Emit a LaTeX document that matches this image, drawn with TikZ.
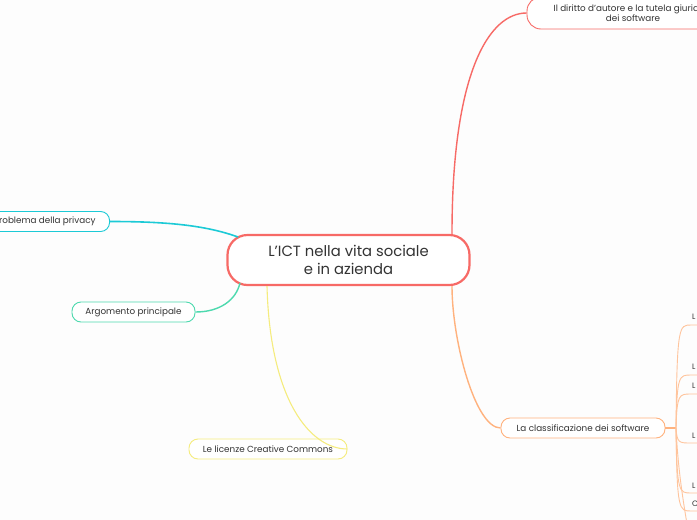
\documentclass[tikz,border=0pt]{standalone}
\usepackage{fontspec}
\setmainfont{Poppins}
\usetikzlibrary{calc}
\definecolor{redc}{HTML}{F76A66}
\definecolor{orc}{HTML}{FFB27E}
\definecolor{orl}{HTML}{FFC49C}
\definecolor{cyc}{HTML}{1CCAD6}
\definecolor{grc}{HTML}{4DD9AE}
\definecolor{yec}{HTML}{F5EC7E}
\definecolor{txt}{HTML}{333333}
\definecolor{bg}{HTML}{FDFDFD}
\begin{document}
\begin{tikzpicture}[x=1pt,y=-1pt,
  central/.style={draw=redc, line width=2.2pt, rounded corners=20pt, fill=white,
    minimum width=242pt, minimum height=50pt, inner sep=0pt, align=center,
    text=txt, font=\fontsize{14.8}{18}\selectfont},
  topic/.style={draw, rounded corners=9pt, fill=white, minimum height=20pt,
    inner ysep=0pt, inner xsep=14pt, line width=0.9pt, text=txt,
    font=\fontsize{8.8}{10}\selectfont},
  sublabel/.style={anchor=west, inner sep=0pt, text=txt, font=\fontsize{7.8}{9}\selectfont},
  mainline/.style={line width=1.4pt},
  subline/.style={orl, line width=0.9pt}
]
\useasboundingbox (0,0) rectangle (697,520);
\fill[bg] (0,0) rectangle (697,520);
\clip (0,0) rectangle (697,520);

% nodes
\node[central] (c) at (348.5,260) {L’ICT nella vita sociale\\e in azienda};
\node[topic, draw=redc, minimum width=212pt, minimum height=32pt, rounded corners=14pt,
      align=center, font=\fontsize{8.8}{10.5}\selectfont] (t) at (633,13)
      {Il diritto d’autore e la tutela giuridica\\dei software};
\node[topic, draw=orc, minimum width=164pt, inner xsep=0pt] (k) at (583,428) {La classificazione dei software};
\node[topic, draw=cyc, anchor=east] (p) at (110,221.5) {Il problema della privacy};
\node[topic, draw=grc, minimum width=123pt, inner xsep=0pt] (a) at (133.5,312) {Argomento principale};
\node[topic, draw=yec, minimum width=158pt, inner xsep=0pt] (l) at (268,449) {Le licenze Creative Commons};

% attachment points on the central node
\coordinate (cr) at ($(c.north)+(103.5,0)$);
\coordinate (co) at ($(c.south)+(103.5,0)$);
\coordinate (cc) at (238,237);
\coordinate (cg) at (240,283);
\coordinate (cy) at ($(c.south)+(-81.5,0)$);

% main connectors
\draw[redc, mainline] (cr) .. controls (452,70) and (490,13) .. (t.west);
\draw[orc, mainline] (co) .. controls (452,340) and (475,428) .. (k.west);
\draw[cyc, line width=1.6pt] (cc) .. controls (205,225) and (165,221.5) .. (p.east);
\draw[grc, mainline] (cg) .. controls (236,300) and (220,312) .. (a.east);
\draw[yec, line width=1.1pt] (cy) .. controls (270,400) and (310,449) .. (l.east);

% sub-branches of "La classificazione dei software"
\coordinate (j) at (676,428);
\draw[orc, line width=1.6pt] (k.east) -- (j);
\foreach \yy in {325,375,394,443,493,511}{
  \draw[subline] (j) .. controls (677,\yy) and (679,\yy) .. (691,\yy) -- (700,\yy);
}
\coordinate (jend) at (688,530);
\draw[subline] (j) .. controls (678,470) and (683,500) .. (jend);

\node[sublabel] (s1) at (692,317) {L};
\node[sublabel] (s2) at (692,367) {L};
\node[sublabel] (s3) at (692,386) {L};
\node[sublabel] (s4) at (692,435.5) {L};
\node[sublabel] (s5) at (692,485.5) {L};
\node[sublabel] (s6) at (692,503.5) {C};
\end{tikzpicture}
\end{document}
